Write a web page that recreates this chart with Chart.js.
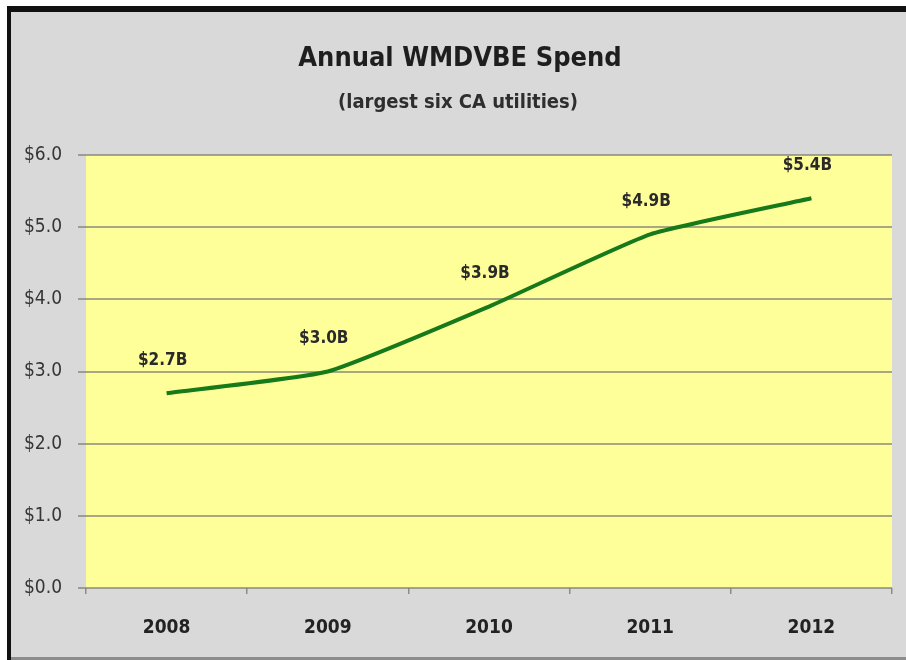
<!DOCTYPE html>
<html>
<head>
<meta charset="utf-8">
<script src="https://cdn.jsdelivr.net/npm/chart.js@4.4.0/dist/chart.umd.min.js"></script>
<style>
    html, body { margin: 0; padding: 0; background: #fff; }
    #wrap { width: 906px; height: 660px; }
</style>
</head>
<body>
<div id="wrap"><canvas id="spendChart" width="906" height="660"></canvas></div>
<script>
// Annual WMDVBE spend, billions of dollars
const years = ['2008', '2009', '2010', '2011', '2012'];
const spend = [2.7, 3.0, 3.9, 4.9, 5.4];
const spendLabels = ['$2.7B', '$3.0B', '$3.9B', '$4.9B', '$5.4B'];
const yMin = 0;
const yMax = 6;
const yStep = 1;
const titleText = 'Annual WMDVBE Spend';
const subtitleText = '(largest six CA utilities)';

const FONT = '"Liberation Sans Narrow", "DejaVu Sans Condensed", "Open Sans", sans-serif';

// gray panel with the dark frame, yellow plot area, titles
const framePlugin = {
    id: 'frame',
    beforeDraw(chart) {
        const ctx = chart.ctx;
        const { left, top, right, bottom } = chart.chartArea;
        ctx.save();
        ctx.fillStyle = '#ffffff';
        ctx.fillRect(0, 0, chart.width, chart.height);
        ctx.fillStyle = '#d9d9d9';
        ctx.fillRect(7, 6, chart.width - 7, chart.height - 6);
        ctx.fillStyle = '#111';
        ctx.fillRect(7, 6, chart.width - 7, 6);
        ctx.fillRect(7, 6, 4, chart.height - 6);
        ctx.fillStyle = '#8c8c8c';
        ctx.fillRect(11, chart.height - 3, chart.width - 11, 3);
        ctx.fillStyle = '#ffff99';
        ctx.fillRect(left, top, right - left, bottom - top);

        ctx.textAlign = 'center';
        ctx.textBaseline = 'middle';
        ctx.fillStyle = '#1e1e1e';
        ctx.font = 'bold 27px ' + FONT;
        ctx.fillText(titleText, 460, 59);
        ctx.fillStyle = '#2e2e2e';
        ctx.font = 'bold 20px ' + FONT;
        ctx.fillText(subtitleText, 458, 103);
        ctx.restore();
    }
};

// value labels above each point
const pointLabels = {
    id: 'pointLabels',
    afterDatasetsDraw(chart) {
        const ctx = chart.ctx;
        const meta = chart.getDatasetMeta(0);
        ctx.save();
        ctx.font = 'bold 17px ' + FONT;
        ctx.fillStyle = '#2a2a2a';
        ctx.textAlign = 'center';
        ctx.textBaseline = 'middle';
        meta.data.forEach((pt, i) => {
            ctx.fillText(spendLabels[i], pt.x - 4, pt.y - 33);
        });
        ctx.restore();
    }
};

const ctx = document.getElementById('spendChart').getContext('2d');
new Chart(ctx, {
    type: 'line',
    data: {
        labels: years,
        datasets: [{
            label: 'Spend',
            data: spend,
            borderColor: '#16791a',
            borderWidth: 4,
            tension: 0.15,
            pointRadius: 0,
            fill: false
        }]
    },
    options: {
        responsive: false,
        animation: false,
        layout: { padding: { left: 0, top: 155, right: 14, bottom: 0 } },
        plugins: {
            legend: { display: false },
            tooltip: { enabled: false },
            title: { display: false }
        },
        scales: {
            x: {
                offset: true,
                afterFit: s => { s.height = 72; },
                border: { display: false },
                grid: { offset: true, drawOnChartArea: false, drawTicks: true, tickLength: 6, color: '#8c8c8c', lineWidth: 1.5 },
                ticks: { color: '#222', padding: 23, font: { family: FONT, size: 19, weight: 'bold' } }
            },
            y: {
                min: yMin,
                max: yMax,
                afterFit: s => { s.width = 86; },
                border: { display: false },
                grid: { color: 'rgba(130,130,120,0.7)', lineWidth: 2, tickLength: 8 },
                ticks: {
                    stepSize: yStep,
                    color: '#363636',
                    padding: 16,
                    font: { family: FONT, size: 19 },
                    callback: v => '$' + v.toFixed(1)
                }
            }
        }
    },
    plugins: [framePlugin, pointLabels]
});
</script>
</body>
</html>
